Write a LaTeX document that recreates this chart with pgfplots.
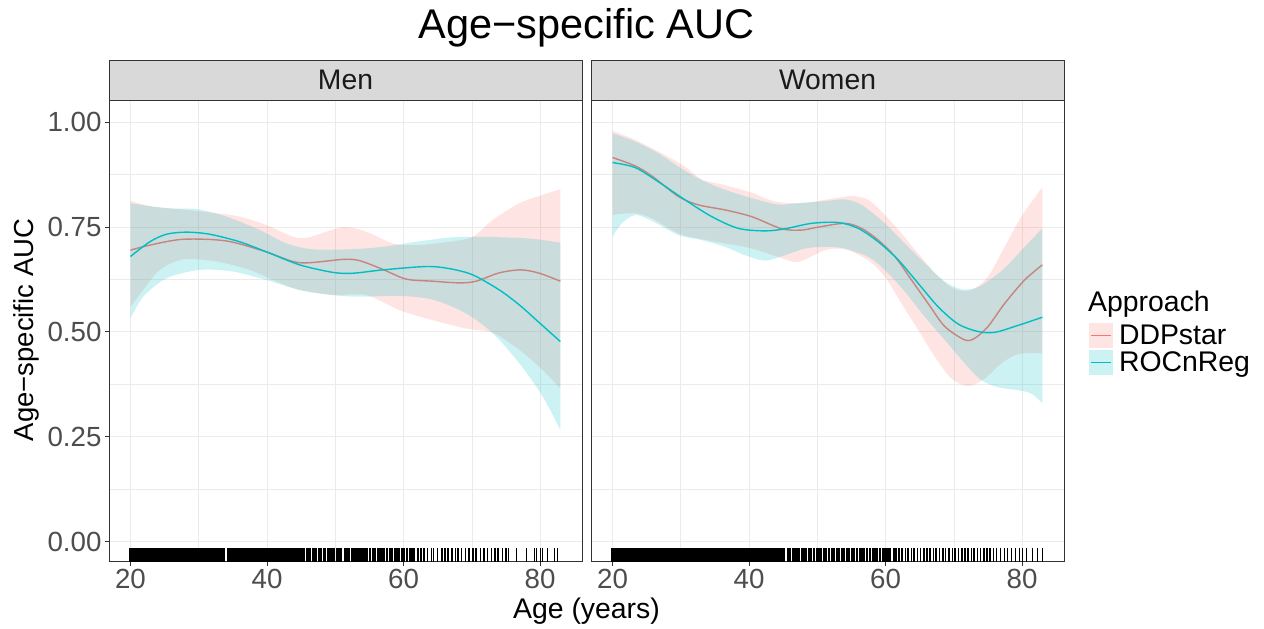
\documentclass[border=0pt]{standalone}
\usepackage{pgfplots}
\pgfplotsset{compat=1.18}
\usepgfplotslibrary{fillbetween}
\usepackage{fontspec}
\setmainfont{Liberation Sans}

\definecolor{ddp}{HTML}{F8766D}
\definecolor{ddpline}{HTML}{C6857E}
\definecolor{roc}{HTML}{00BFC4}
\definecolor{grid92}{HTML}{EBEBEB}
\definecolor{grey20}{HTML}{333333}
\definecolor{grey30}{HTML}{4D4D4D}
\definecolor{grey10}{HTML}{1A1A1A}
\definecolor{stripgray}{HTML}{D9D9D9}

\newcommand{\tickfont}{\fontsize{27.7}{31}\selectfont}
\newcommand{\labfont}{\fontsize{28.4}{32}\selectfont}

\pgfplotsset{
  panel/.style={
    scale only axis,
    width=473pt, height=460.7pt,
    xmin=16.85, xmax=86.15,
    ymin=-0.048, ymax=1.0508,
    xtick={20,40,60,80}, xticklabels={20,40,60,80},
    minor xtick={30,50,70},
    ytick={0,0.25,0.5,0.75,1},
    minor ytick={0.125,0.375,0.625,0.875},
    grid=both,
    major grid style={color=grid92, line width=1pt},
    minor grid style={color=grid92, line width=0.55pt},
    axis line style={grey20, line width=1pt},
    tick style={grey20, line width=1pt},
    tick align=outside, tick pos=left,
    major tick length=4pt, minor tick length=0pt,
    /pgf/number format/assume math mode=true,
    ticklabel style={font=\tickfont, text=grey30},
    every axis title/.style={at={(0.5,1)}, anchor=south, yshift=0pt,
      fill=stripgray, draw=grey20, line width=1pt,
      minimum width=473pt, minimum height=40.3pt, inner sep=0pt,
      font=\fontsize{28.3}{32}\selectfont, text=grey10},
  },
  rug/.style={only marks, mark=|, mark size=6.85pt, forget plot,
    mark options={line width=#1, black}},
}

\begin{document}
\begin{tikzpicture}
\path (0,0) rectangle (1264pt,629pt);

% ---------------- Men ----------------
\begin{axis}[panel, at={(109pt,67.3pt)}, anchor=south west, title={Men},
  yticklabels={0.00,0.25,0.50,0.75,1.00}]
\addplot[name path=mru, draw=none, smooth, forget plot] coordinates {
 (20,0.813) (22.83,0.800) (27.71,0.792) (32.59,0.783) (36.0,0.775) (39.9,0.755)
 (43.8,0.727) (46.24,0.726) (51.12,0.750) (54.54,0.739) (58.44,0.711) (61.85,0.707)
 (66.73,0.715) (70.15,0.727) (73.07,0.767) (76.98,0.807) (80.39,0.827) (82.98,0.840)};
\addplot[name path=mrl, draw=none, smooth, forget plot] coordinates {
 (20,0.560) (21.85,0.600) (24.29,0.648) (27.71,0.673) (32.59,0.668) (37.46,0.648)
 (40.88,0.624) (44.78,0.600) (49.66,0.588) (54.54,0.588) (59.41,0.552) (64.29,0.528)
 (69.17,0.508) (73.07,0.498) (76.98,0.457) (80.39,0.409) (82.98,0.365)};
\addplot[ddp, fill opacity=0.2, draw=none, forget plot] fill between[of=mru and mrl];
\addplot[name path=mtu, draw=none, smooth, forget plot] coordinates {
 (20,0.807) (25.27,0.795) (29.66,0.793) (34.05,0.775) (38.93,0.743) (42.83,0.711)
 (46.73,0.697) (52.1,0.697) (56.98,0.703) (61.85,0.715) (66.73,0.725) (70.15,0.727)
 (74.05,0.726) (78.93,0.722) (82.98,0.713)};
\addplot[name path=mtl, draw=none, smooth, forget plot] coordinates {
 (20,0.532) (21.85,0.584) (25.27,0.628) (30.15,0.648) (35.02,0.644) (39.9,0.624)
 (44.78,0.600) (49.66,0.588) (53.56,0.584) (59.41,0.586) (64.29,0.577) (69.17,0.544)
 (73.07,0.497) (76.98,0.425) (80.39,0.346) (82.98,0.266)};
\addplot[roc, fill opacity=0.2, draw=none, forget plot] fill between[of=mtu and mtl];
\addplot[ddpline, line width=1.4pt, smooth, forget plot] coordinates {
 (20,0.695) (22.83,0.707) (27.71,0.721) (34.05,0.717) (39.9,0.691) (44.78,0.665)
 (51.12,0.673) (53.56,0.670) (56.98,0.649) (60.39,0.626) (64.29,0.621) (68.2,0.617)
 (70.63,0.621) (74.05,0.641) (77.22,0.648) (79.9,0.640) (82.98,0.621)};
\addplot[roc, line width=1.4pt, smooth, forget plot] coordinates {
 (20,0.680) (22.83,0.715) (25.27,0.733) (28.2,0.738) (31.61,0.733) (36.0,0.715)
 (39.9,0.691) (44.78,0.660) (49.66,0.642) (52.59,0.640) (56.98,0.648) (63.32,0.656)
 (66.73,0.651) (70.15,0.636) (74.05,0.600) (77.0,0.564) (79.9,0.522) (82.98,0.477)};
% rug
\addplot[rug=4pt] table[y expr=-0.0318] {
x
20.0
20.5
21.0
21.5
22.0
22.5
23.0
23.5
24.0
24.5
25.0
25.5
26.0
26.5
27.0
27.5
28.0
28.5
29.0
29.5
30.0
30.5
31.0
31.5
32.0
32.5
33.0
33.5
34.5
35.0
35.5
36.0
36.5
37.0
37.5
38.0
38.5
39.0
39.5
40.0
40.5
41.0
41.5
42.0
42.5
43.0
43.5
44.0
44.5
45.0
45.3
};
\addplot[rug=2.1pt] table[y expr=-0.0318] {
x
45.8
46.1
46.3
46.7
47.0
47.2
47.6
47.9
48.3
48.5
48.9
49.2
49.6
49.8
50.3
50.6
50.9
51.4
51.7
52.0
52.4
52.8
53.1
53.3
53.7
54.0
54.4
54.7
55.1
55.5
55.8
56.2
56.5
56.9
57.1
57.6
58.0
58.3
58.7
59.0
59.4
59.8
60.1
60.5
60.9
61.3
61.6
};
\addplot[rug=1.6pt] table[y expr=-0.0318] {
x
62.1
62.6
63.0
63.5
64.1
64.4
65.0
65.6
66.1
66.5
67.1
67.6
68.0
68.5
69.1
69.6
70.2
70.6
71.3
71.8
72.3
72.9
73.4
73.8
74.5
75.0
75.4
};
\addplot[rug=1pt] table[y expr=-0.0318] {
x
76.6
78.0
79.2
79.5
80.0
80.4
81.1
82.1
82.5
};
\end{axis}

% ---------------- Women ----------------
\begin{axis}[panel, at={(591pt,67.3pt)}, anchor=south west, title={Women},
  yticklabels={}, y tick style={opacity=0},
  legend style={at={(rel axis cs:1.0529,0.5188)}, anchor=north west,
    draw=none, fill=none, inner sep=0pt, outer sep=0pt,
    font=\labfont, row sep=2pt,
    /tikz/every odd column/.append style={column sep=4pt}},
  legend cell align=left]
\addplot[name path=wru, draw=none, smooth, forget plot] coordinates {
 (20,0.980) (23.32,0.958) (27.22,0.926) (30.63,0.894) (33.07,0.864) (36.49,0.850)
 (40.39,0.832) (43.8,0.811) (47.71,0.807) (51.12,0.815) (55.02,0.824) (57.46,0.815)
 (59.9,0.779) (62.34,0.735) (64.78,0.687) (67.71,0.632) (70.15,0.602) (72.59,0.600)
 (75.02,0.632) (77.46,0.703) (79.9,0.775) (82.98,0.845)};
\addplot[name path=wrl, draw=none, smooth, forget plot] coordinates {
 (20,0.779) (23.32,0.783) (25.76,0.771) (29.66,0.735) (32.59,0.723) (36.49,0.711)
 (40.39,0.699) (44.29,0.679) (47.22,0.667) (51.12,0.695) (54.05,0.697) (57.46,0.671)
 (59.9,0.632) (62.34,0.568) (64.78,0.505) (67.22,0.441) (69.66,0.389) (72.1,0.371)
 (74.54,0.389) (76.98,0.425) (79.41,0.447) (82.98,0.449)};
\addplot[ddp, fill opacity=0.2, draw=none, forget plot] fill between[of=wru and wrl];
\addplot[name path=wtu, draw=none, smooth, forget plot] coordinates {
 (20,0.974) (23.32,0.954) (26.73,0.926) (29.66,0.894) (33.07,0.862) (36.49,0.839)
 (40.39,0.819) (44.29,0.804) (47.71,0.808) (51.12,0.812) (54.05,0.816) (56.49,0.803)
 (59.9,0.759) (62.83,0.711) (65.76,0.664) (68.68,0.620) (71.12,0.602) (73.07,0.604)
 (74.54,0.616) (77.46,0.652) (80.39,0.703) (82.98,0.747)};
\addplot[name path=wtl, draw=none, smooth, forget plot] coordinates {
 (20,0.727) (21.37,0.759) (23.32,0.779) (25.76,0.765) (29.66,0.731) (33.07,0.719)
 (36.49,0.703) (39.41,0.683) (42.34,0.670) (45.27,0.683) (48.2,0.699) (51.12,0.703)
 (54.05,0.699) (57.46,0.679) (59.9,0.648) (62.83,0.596) (65.76,0.536) (68.68,0.481)
 (71.61,0.425) (74.05,0.385) (76.49,0.368) (79.41,0.361) (81.37,0.353) (82.98,0.330)};
\addplot[roc, fill opacity=0.2, draw=none, forget plot] fill between[of=wtu and wtl];
\addplot[ddpline, line width=1.4pt, smooth, forget plot] coordinates {
 (20,0.916) (23.32,0.896) (25.76,0.872) (29.66,0.823) (32.59,0.803) (36.49,0.791)
 (40.39,0.775) (44.78,0.746) (47.71,0.743) (50.15,0.750) (54.05,0.759) (56.49,0.747)
 (58.93,0.719) (61.37,0.680) (63.8,0.624) (66.24,0.568) (68.68,0.513) (71.61,0.481)
 (73.07,0.485) (75.02,0.513) (77.46,0.568) (80.39,0.624) (82.98,0.660)};
\addplot[roc, line width=1.4pt, smooth, forget plot] coordinates {
 (20,0.904) (23.32,0.892) (26.73,0.858) (30.63,0.815) (34.54,0.775) (38.44,0.747)
 (42.34,0.741) (45.27,0.746) (49.17,0.759) (53.07,0.761) (56.0,0.747) (58.93,0.715)
 (61.85,0.672) (64.78,0.616) (67.71,0.560) (70.63,0.519) (73.56,0.501) (76.0,0.499)
 (78.93,0.513) (82.98,0.535)};
% rug
\addplot[rug=4pt] table[y expr=-0.0318] {
x
20.0
20.5
21.0
21.5
22.0
22.5
23.0
23.5
24.0
24.5
25.0
25.5
26.0
26.5
27.0
27.5
28.0
28.5
29.0
29.5
30.0
30.5
31.0
31.5
32.0
32.5
33.0
33.5
34.0
34.5
35.0
35.5
36.0
36.5
37.0
37.5
38.0
38.5
39.0
39.5
40.0
40.5
41.0
41.5
42.0
42.5
43.0
43.5
44.0
44.5
45.0
};
\addplot[rug=2.1pt] table[y expr=-0.0318] {
x
45.7
46.0
46.4
46.7
47.1
47.3
47.7
48.0
48.4
48.8
49.1
49.5
49.9
50.2
50.6
51.0
51.3
51.7
52.1
52.4
52.9
53.2
53.6
53.9
54.3
54.7
55.1
55.4
55.8
56.2
56.6
56.9
57.3
57.7
58.1
58.4
58.8
59.2
59.6
60.0
60.3
60.7
61.2
61.5
};
\addplot[rug=1.6pt] table[y expr=-0.0318] {
x
62.0
62.4
62.9
63.3
63.8
64.2
64.7
65.1
65.6
66.1
66.5
67.0
67.4
67.9
68.4
68.8
69.3
69.8
70.2
70.7
71.2
71.6
72.1
72.6
73.0
73.5
73.9
74.4
74.9
75.3
};
\addplot[rug=1pt] table[y expr=-0.0318] {
x
75.8
76.3
76.8
77.4
77.9
78.5
79.0
79.6
80.1
80.6
81.6
82.3
83.0
};
\addlegendimage{legend image code/.code={
  \path[fill=ddp, fill opacity=0.2, draw=none] (0pt,-12.7pt) rectangle (24pt,12.7pt);
  \draw[ddp, line width=1.4pt] (2pt,0pt) -- (22pt,0pt);}}
\addlegendentry{DDPstar}
\addlegendimage{legend image code/.code={
  \path[fill=roc, fill opacity=0.2, draw=none] (0pt,-12.7pt) rectangle (24pt,12.7pt);
  \draw[roc, line width=1.4pt] (2pt,0pt) -- (22pt,0pt);}}
\addlegendentry{ROCnReg}
\end{axis}

% titles
\node[anchor=base, inner sep=0pt, font=\fontsize{41.5}{48}\selectfont] at (586.5pt,590.5pt) {Age−specific AUC};
\node[anchor=base, inner sep=0pt, font=\labfont] at (586.5pt,10.7pt) {Age (years)};
\node[anchor=base, inner sep=0pt, rotate=90, font=\fontsize{27.5}{31}\selectfont] at (33.5pt,299pt) {Age−specific AUC};
\node[anchor=base west, inner sep=0pt, font=\labfont] at (1088pt,317.3pt) {Approach};
\end{tikzpicture}
\end{document}
